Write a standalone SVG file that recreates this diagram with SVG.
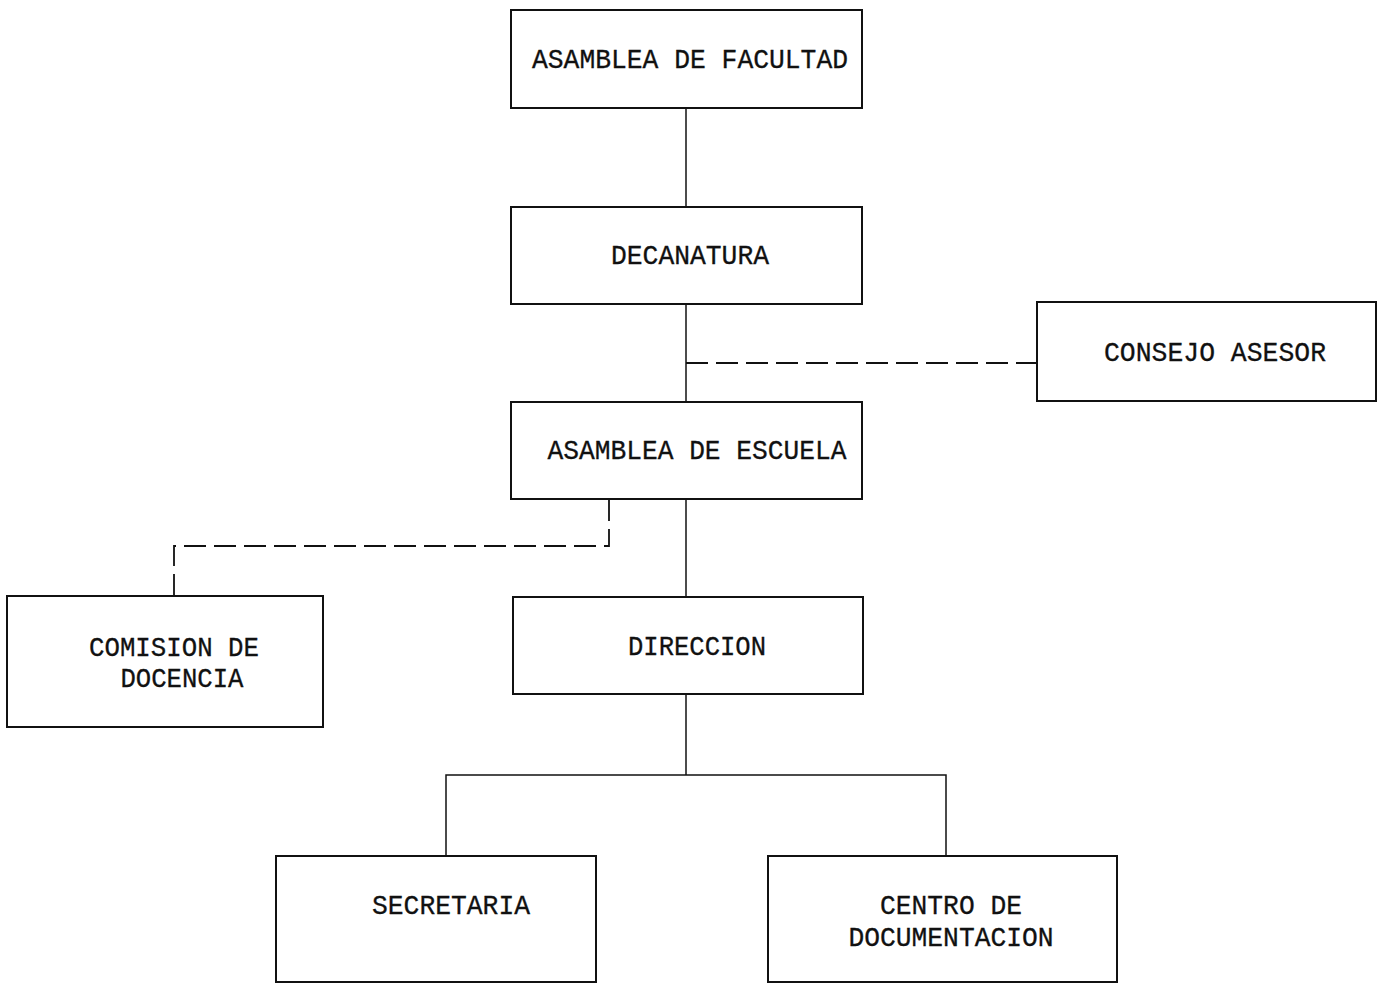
<svg xmlns="http://www.w3.org/2000/svg" width="1379" height="984" viewBox="0 0 1379 984">
<style>
.box{fill:#fff;stroke:#111;stroke-width:2}
.t{font-family:"Liberation Mono","Courier New",monospace;font-size:27px;fill:#111;stroke:#111;stroke-width:0.3;text-anchor:middle}
.c{fill:none;stroke:#111;stroke-width:1.5}
.d{fill:none;stroke:#111;stroke-width:1.8;stroke-dasharray:22 8}
</style>
<rect width="1379" height="984" fill="#fff"/>
<g id="connectors">
<line class="c" x1="686" y1="108" x2="686" y2="207"/>
<line class="c" x1="686" y1="304" x2="686" y2="402"/>
<line class="c" x1="686" y1="499" x2="686" y2="597"/>
<line class="c" x1="686" y1="694" x2="686" y2="775"/>
<polyline class="c" points="446,856 446,775 946,775 946,856"/>
<line class="d" x1="686" y1="363" x2="1037" y2="363"/>
<polyline class="d" points="609,499 609,546 174,546 174,596"/>
</g>
<g id="asamblea-facultad">
<rect class="box" x="511" y="10" width="351" height="98"/>
<text class="t" x="690" y="68" textLength="316" lengthAdjust="spacingAndGlyphs">ASAMBLEA DE FACULTAD</text>
</g>
<g id="decanatura">
<rect class="box" x="511" y="207" width="351" height="97"/>
<text class="t" x="690" y="264" textLength="158" lengthAdjust="spacingAndGlyphs">DECANATURA</text>
</g>
<g id="consejo-asesor">
<rect class="box" x="1037" y="302" width="339" height="99"/>
<text class="t" x="1215" y="361" textLength="222" lengthAdjust="spacingAndGlyphs">CONSEJO ASESOR</text>
</g>
<g id="asamblea-escuela">
<rect class="box" x="511" y="402" width="351" height="97"/>
<text class="t" x="697" y="459" textLength="299" lengthAdjust="spacingAndGlyphs">ASAMBLEA DE ESCUELA</text>
</g>
<g id="comision-docencia">
<rect class="box" x="7" y="596" width="316" height="131"/>
<text class="t" x="174" y="656" textLength="170" lengthAdjust="spacingAndGlyphs">COMISION DE</text>
<text class="t" x="182" y="687" textLength="123" lengthAdjust="spacingAndGlyphs">DOCENCIA</text>
</g>
<g id="direccion">
<rect class="box" x="513" y="597" width="350" height="97"/>
<text class="t" x="697" y="655" textLength="138" lengthAdjust="spacingAndGlyphs">DIRECCION</text>
</g>
<g id="secretaria">
<rect class="box" x="276" y="856" width="320" height="126"/>
<text class="t" x="451" y="914" textLength="158" lengthAdjust="spacingAndGlyphs">SECRETARIA</text>
</g>
<g id="centro-documentacion">
<rect class="box" x="768" y="856" width="349" height="126"/>
<text class="t" x="951" y="914" textLength="142" lengthAdjust="spacingAndGlyphs">CENTRO DE</text>
<text class="t" x="951" y="946" textLength="205" lengthAdjust="spacingAndGlyphs">DOCUMENTACION</text>
</g>
</svg>
